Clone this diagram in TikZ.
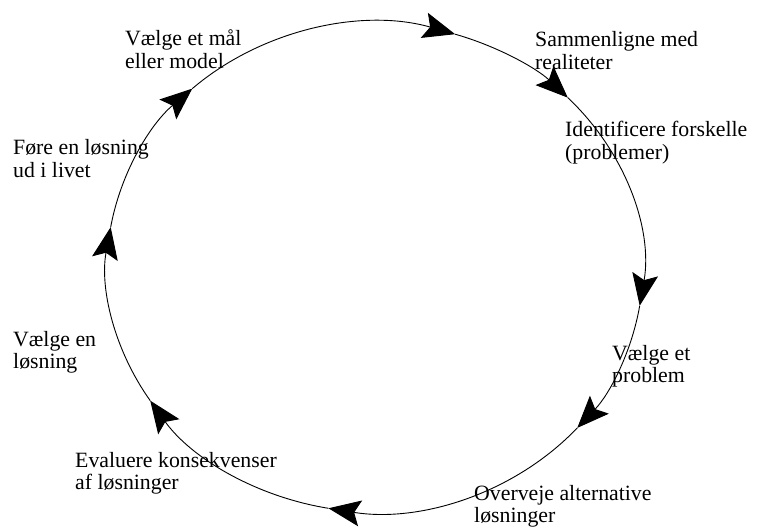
\documentclass[tikz,border=0pt]{standalone}
\usepackage{fontspec}
\setmainfont{Liberation Serif}
\usetikzlibrary{arrows.meta}
\begin{document}
\begin{tikzpicture}[x=1pt,y=1pt,
  cycleseg/.style={line width=0.9pt, -{Stealth[length=32pt,width=26pt,inset=6pt]}},
  lbl/.style={anchor=base west, inner sep=0pt, font=\fontsize{21.8}{22.5}\selectfont}]
\useasboundingbox (-375,-259.5) rectangle (382,267.5);
\def\rx{268}\def\ry{244.5}
% points on the ellipse where each step ends
\foreach \n/\a in {p1/72.6, p2/44, p3/-9, p4/-41, p5/-100, p6/213, p7/170.5, p8/133}
  \coordinate (\n) at (\a:\rx pt and \ry pt);
% clockwise arcs, one per step
\foreach \s/\a/\b in {p1/72.6/44, p2/44/-9, p3/-9/-41, p4/-41/-100,
                      p5/-100/-147, p6/213/170.5, p7/170.5/133, p8/133/72.6}
  \draw[cycleseg] (\s) arc[start angle=\a, end angle=\b, x radius=\rx pt, y radius=\ry pt];
% step labels
\node[lbl] (l1) at (-250,221.5) {\begin{tabular}[t]{@{}l@{}}Vælge et mål\\eller model\end{tabular}};
\node[lbl] (l2) at (160,220.5) {\begin{tabular}[t]{@{}l@{}}Sammenligne med\\realiteter\end{tabular}};
\node[lbl] (l3) at (190,130.5) {\begin{tabular}[t]{@{}l@{}}Identificere forskelle\\(problemer)\end{tabular}};
\node[lbl] (l4) at (237,-92.5) {\begin{tabular}[t]{@{}l@{}}Vælge et\\problem\end{tabular}};
\node[lbl] (l5) at (99,-232.5) {\begin{tabular}[t]{@{}l@{}}Overveje alternative\\løsninger\end{tabular}};
\node[lbl] (l6) at (-300,-199.5) {\begin{tabular}[t]{@{}l@{}}Evaluere konsekvenser\\af løsninger\end{tabular}};
\node[lbl] (l7) at (-362,-78.5) {\begin{tabular}[t]{@{}l@{}}Vælge en\\løsning\end{tabular}};
\node[lbl] (l8) at (-362,112.5) {\begin{tabular}[t]{@{}l@{}}Føre en løsning\\ud i livet\end{tabular}};
\end{tikzpicture}
\end{document}
